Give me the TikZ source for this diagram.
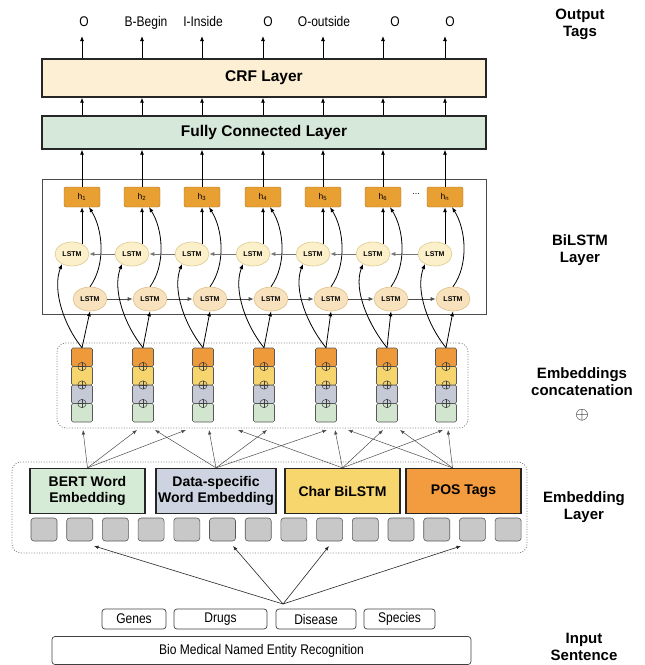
\documentclass[tikz,border=0pt]{standalone}
\usepackage{fontspec}
\setmainfont{Liberation Sans}
\newfontfamily\narrowfont[FakeStretch=0.86]{Liberation Sans}
\usetikzlibrary{arrows.meta,shapes.geometric,calc}
\definecolor{crfc}{HTML}{FCEFD3}
\definecolor{fcc}{HTML}{D6E8DA}
\definecolor{hfill}{HTML}{E9A033}
\definecolor{hbd}{HTML}{A8701E}
\definecolor{bwf}{HTML}{FBF0C9}
\definecolor{bwd}{HTML}{DCC98E}
\definecolor{fwf}{HTML}{F8E2BD}
\definecolor{fwd}{HTML}{DDBE88}
\definecolor{corg}{HTML}{EE9A3A}
\definecolor{cyel}{HTML}{F6D46E}
\definecolor{cgry}{HTML}{C6CAD6}
\definecolor{cgrn}{HTML}{D2E5CF}
\definecolor{bertc}{HTML}{D5EBD6}
\definecolor{datac}{HTML}{CDD3E0}
\definecolor{charc}{HTML}{F8D66E}
\definecolor{posc}{HTML}{F39B3F}
\definecolor{sqc}{HTML}{C8C8C8}
\begin{document}
\begin{tikzpicture}[x=1pt,y=-1pt,
  arr/.style={-{Latex[length=5pt,width=4pt]},line width=0.8pt,draw=black},
  thinarr/.style={-{Latex[length=4.5pt,width=3.5pt]},line width=0.5pt,draw=black!70},
  layer/.style={draw=black!85,line width=1.4pt,minimum width=444pt,inner sep=0pt,font=\bfseries\fontsize{15.5}{17}\selectfont},
  hbox/.style={draw=hbd,fill=hfill,rounded corners=2pt,minimum width=36pt,minimum height=20pt,inner sep=0pt,font=\fontsize{8.5}{9}\selectfont},
  bwell/.style={ellipse,draw=bwd,fill=bwf,line width=0.6pt,minimum width=34pt,minimum height=24pt,inner sep=0pt,font=\bfseries\fontsize{7}{7}\selectfont},
  fwell/.style={ellipse,draw=fwd,fill=fwf,line width=0.6pt,minimum width=34pt,minimum height=24pt,inner sep=0pt,font=\bfseries\fontsize{7}{7}\selectfont},
  cell/.style={draw=black!65,line width=0.6pt,rounded corners=1.5pt,minimum width=21pt,minimum height=18.5pt,inner sep=0pt},
  embbox/.style={draw=black!85,line width=1.3pt,minimum height=45pt,inner sep=0pt,align=center,font=\bfseries\fontsize{14}{16}\selectfont},
  sq/.style={draw=black!65,fill=sqc,rounded corners=3pt,minimum width=26pt,minimum height=23pt,inner sep=0pt,line width=0.6pt},
  inbox/.style={draw=black!75,rounded corners=3pt,line width=0.7pt,inner sep=0pt,font=\narrowfont\fontsize{14}{16}\selectfont},
  sidelabel/.style={align=center,inner sep=0pt,font=\bfseries\fontsize{15}{17}\selectfont},
  dotbox/.style={draw=black!50,line width=0.8pt,dash pattern=on 1pt off 1.6pt,rounded corners=9pt,inner sep=0pt},
  tag/.style={font=\narrowfont\fontsize{14}{16}\selectfont,inner sep=1pt,text height=10pt,text depth=3pt,anchor=south}
]
\useasboundingbox (0,0) rectangle (645,665);

% main layers
\node[layer,fill=crfc,minimum height=38pt] (crf) at (264,78) {CRF Layer};
\node[layer,fill=fcc,minimum height=33pt] (fc) at (264,132.5) {Fully Connected Layer};
\node[draw=black!70,line width=0.7pt,minimum width=444pt,minimum height=135pt,inner sep=0pt] (bil) at (264,246.5) {};

% output tags
\node[tag] (t1) at (84,31) {O};
\node[tag] (t2) at (146,31) {B-Begin};
\node[tag] (t3) at (203,31) {I-Inside};
\node[tag] (t4) at (268,31) {O};
\node[tag] (t5) at (324,31) {O-outside};
\node[tag] (t6) at (395,31) {O};
\node[tag] (t7) at (450,31) {O};

% BiLSTM units
\foreach \i/\hx/\lab in {1/82/1,2/142/2,3/202/3,4/263/4,5/323/5,6/383/6,7/445/n}{
  \node[hbox] (h\i) at (\hx,197) {h\textsubscript{\lab}};
  \node[bwell] (b\i) at (\hx-10,254) {LSTM};
  \node[fwell] (f\i) at (\hx+8,299) {LSTM};
}
\node[font=\fontsize{9}{9}\selectfont,inner sep=0pt] (dots) at (416,194) {...};

\foreach \i in {1,...,7}{
  \draw[arr] (h\i.north) -- (h\i.north |- fc.south);
  \draw[arr] (fc.north -| h\i) -- (crf.south -| h\i);
  \draw[arr,shorten >=5pt] (crf.north -| h\i) -- (t\i.south -| h\i);
  \draw[arr] (b\i.45) -- (b\i.45 |- h\i.south);
  \draw[arr] (f\i.north) .. controls +(16,-22) and +(14,22) .. ([xshift=7pt]h\i.south);
}
\foreach \i/\j in {1/2,2/3,3/4,4/5,5/6,6/7}{
  \draw[arr,draw=black!55] (b\j.west) -- (b\i.east);
  \draw[arr,draw=black!70] (f\i.east) -- (f\j.west);
}

% concatenation columns
\node[dotbox,minimum width=411pt,minimum height=85pt] (concat) at (262.5,385.5) {};
\foreach \i/\cx in {1/82,2/143,3/203,4/264,5/326,6/387,7/446}{
  \node[cell,fill=cgrn] (c\i d) at (\cx,412.75) {};
  \node[cell,fill=cgry] (c\i c) at (\cx,394.25) {};
  \node[cell,fill=cyel] (c\i b) at (\cx,375.75) {};
  \node[cell,fill=corg] (c\i) at (\cx,357.25) {};
  \foreach \yy in {366.5,385,403.5}{
    \draw[black!75,line width=0.5pt] (\cx,\yy) circle (4.2pt);
    \draw[black!75,line width=0.5pt] (\cx-4.2,\yy) -- (\cx+4.2,\yy) (\cx,\yy-4.2) -- (\cx,\yy+4.2);
  }
  \draw[arr] (c\i.north) -- (f\i.south);
  \draw[arr] (c\i.north) .. controls +(-18,-22) and +(-10,26) .. (b\i.225);
}

% embedding layer
\node[dotbox,minimum width=515pt,minimum height=91pt] (emb) at (269.5,507.5) {};
\node[embbox,fill=bertc,minimum width=115pt] (bert) at (87.5,491) {BERT Word\\Embedding};
\node[embbox,fill=datac,minimum width=120pt] (data) at (216,491) {Data-specific\\Word Embedding};
\node[embbox,fill=charc,minimum width=115pt] (char) at (342.5,491) {Char BiLSTM};
\node[embbox,fill=posc,minimum width=115pt] (pos) at (463.5,491) {POS Tags};
\foreach \k in {0,...,13}{
  \node[sq] (sq\k) at ({44+35.7*\k},529.5) {};
}
\coordinate (possrc) at ([xshift=-11pt]pos.north);

% embedding -> concatenation arrows
\foreach \tx in {83,137,186}{ \coordinate (e) at (\tx,430); \draw[thinarr] (bert.north) -- (e); }
\foreach \tx in {155,209,267,327}{ \coordinate (e) at (\tx,430); \draw[thinarr] (data.north) -- (e); }
\foreach \tx in {238,335,383,443}{ \coordinate (e) at (\tx,430); \draw[thinarr] (char.north) -- (e); }
\foreach \tx in {348,400,448}{ \coordinate (e) at (\tx,430); \draw[thinarr] (possrc) -- (e); }

% input sentence
\node[inbox,minimum width=64pt,minimum height=20pt] (genes) at (134,619) {Genes};
\node[inbox,minimum width=93pt,minimum height=20pt] (drugs) at (220.5,619) {Drugs};
\node[inbox,minimum width=80pt,minimum height=20pt] (disease) at (316,619) {Disease};
\node[inbox,minimum width=71pt,minimum height=20pt] (species) at (399.5,619) {Species};
\node[inbox,minimum width=419pt,minimum height=28pt] (sent) at (261.5,650.5) {Bio Medical Named Entity Recognition};
\coordinate (src) at (283,604);
\foreach \tx in {94,233,329,461}{ \coordinate (e) at (\tx,546); \draw[thinarr,draw=black!85,line width=0.6pt] (src) -- (e); }

% side labels
\node[sidelabel] (l1) at (580,24) {Output\\Tags};
\node[sidelabel] (l2) at (580,250) {BiLSTM\\Layer};
\node[sidelabel] (l3) at (582,382) {Embeddings\\concatenation};
\node[inner sep=0pt,font=\fontsize{18}{18}\selectfont] (l3b) at (582,415) {$\oplus$};
\node[sidelabel] (l4) at (584,507) {Embedding\\Layer};
\node[sidelabel] (l5) at (584,647) {Input\\Sentence};
\end{tikzpicture}
\end{document}
